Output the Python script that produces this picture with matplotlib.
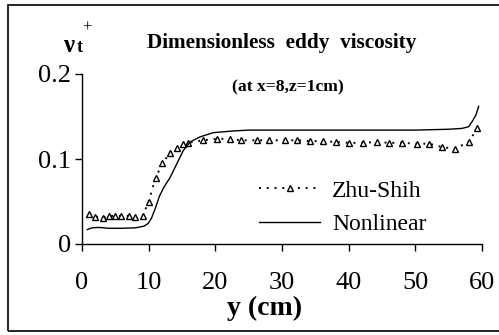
import matplotlib
matplotlib.use("Agg")
import matplotlib.pyplot as plt
from matplotlib.patches import Rectangle

plt.rcParams['font.family'] = ['Liberation Serif', 'DejaVu Serif']

# Zhu-Shih model (dotted + triangles)
zhu_x = [1.0, 1.9, 3.1, 4.0, 4.9, 5.9, 7.1, 8.0, 9.1, 10.0, 11.05, 12.06, 13.2, 14.2,
         15.1, 15.9, 18.1, 20.3, 22.2, 23.9, 26.2, 28.0, 30.4, 32.2, 34.2, 36.2, 38.1,
         40.0, 42.1, 44.2, 46.0, 48.0, 50.2, 52.1, 54.0, 55.9, 58.0, 59.3]
zhu_y = [0.035, 0.032, 0.031, 0.033, 0.033, 0.033, 0.033, 0.032, 0.033, 0.050, 0.078,
         0.095, 0.107, 0.113, 0.118, 0.119, 0.122, 0.124, 0.1235, 0.122, 0.122, 0.122,
         0.122, 0.122, 0.121, 0.121, 0.120, 0.119, 0.119, 0.120, 0.119, 0.119, 0.118,
         0.118, 0.114, 0.112, 0.120, 0.136]

# Nonlinear model (solid)
non_x = [0.8, 1.5, 2.5, 4, 6, 8, 9.3, 9.9, 10.4, 11, 11.6, 12.3, 13.2, 14.2, 15.2, 16.2,
         17.7, 19.7, 22.7, 25, 30, 35, 40, 45, 50, 55, 57, 58, 58.6, 59.1, 59.5]
non_y = [0.017, 0.019, 0.0195, 0.0185, 0.0185, 0.019, 0.021, 0.024, 0.030, 0.042, 0.056,
         0.067, 0.078, 0.094, 0.110, 0.120, 0.126, 0.131, 0.133, 0.134, 0.134, 0.134,
         0.134, 0.134, 0.134, 0.135, 0.136, 0.138, 0.145, 0.152, 0.162]

x_ticks = [0, 10, 20, 30, 40, 50, 60]
y_ticks = [0, 0.1, 0.2]
y_tick_labels = ['0', '0.1', '0.2']

W, H = 499, 335
fig = plt.figure(figsize=(W / 100, H / 100), dpi=100)
ax = fig.add_axes([82 / W, 1 - 244 / H, 400 / W, 170 / H])

ax.plot(zhu_x, zhu_y, linestyle=(0, (1, 3)), color='black', linewidth=1.4,
        marker='^', markersize=5, markerfacecolor='white', markeredgecolor='black',
        markeredgewidth=1.0, label='Zhu-Shih')
ax.plot(non_x, non_y, linestyle='-', color='black', linewidth=1.0, label='Nonlinear')

ax.set_xlim(0, 60)
ax.set_ylim(0, 0.2)
ax.set_xticks(x_ticks)
ax.set_xticklabels([str(t) for t in x_ticks])
ax.set_yticks(y_ticks)
ax.set_yticklabels(y_tick_labels)
for s in ['top', 'right']:
    ax.spines[s].set_visible(False)
for s in ['left', 'bottom']:
    ax.spines[s].set_linewidth(1.0)
ax.tick_params(axis='x', direction='out', length=5, width=1.0, pad=15, labelsize=19)
ax.tick_params(axis='y', direction='out', length=5, width=1.0, pad=3, labelsize=19)

leg = ax.legend(loc='upper left', bbox_to_anchor=(259 / W, 1 - 180 / H),
                bbox_transform=fig.transFigure, frameon=False, fontsize=17,
                handlelength=2.6, handletextpad=0.5, labelspacing=0.5, numpoints=1,
                borderaxespad=0, borderpad=0)

fig.text(265 / W, 1 - 308 / H, 'y (cm)', ha='center', va='center',
         fontsize=20, fontweight='bold')
fig.text(282 / W, 1 - 43 / H, 'Dimensionless  eddy  viscosity', ha='center',
         va='center', fontsize=15.3, fontweight='bold')
fig.text(288 / W, 1 - 87 / H, '(at x=8,z=1cm)', ha='center', va='center',
         fontsize=12.6, fontweight='bold')
fig.text(69 / W, 1 - 45 / H, 'ν', ha='center', va='center', fontsize=18,
         fontweight='bold')
fig.text(80 / W, 1 - 48 / H, 't', ha='center', va='center', fontsize=13,
         fontweight='bold')
fig.text(87 / W, 1 - 28 / H, '+', ha='center', va='center', fontsize=12)

fig.patches.append(Rectangle((8 / W, 1 - 331 / H), 1.2, (331 - 5) / H,
                             transform=fig.transFigure, fill=False,
                             edgecolor='black', linewidth=1.2, clip_on=False))

fig.savefig('out.png', dpi=100)
